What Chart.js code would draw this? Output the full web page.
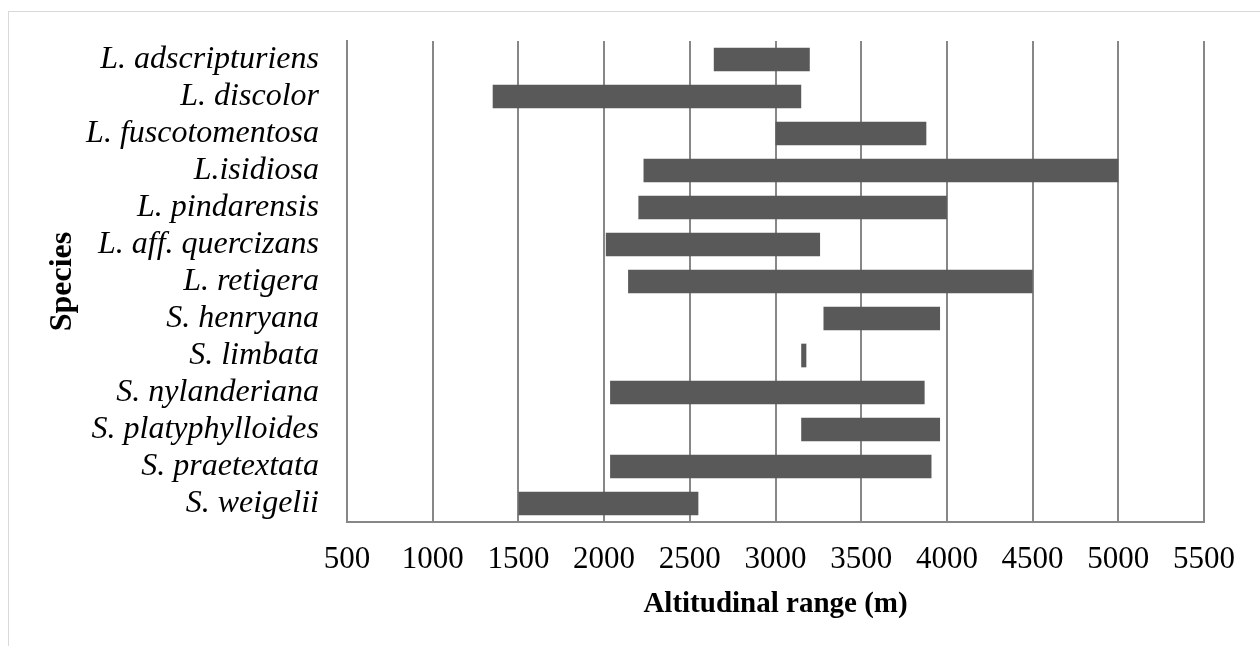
<!DOCTYPE html>
<html>
<head>
<meta charset="utf-8">
<script src="https://cdn.jsdelivr.net/npm/chart.js@4"></script>
<style>
  html, body { margin: 0; padding: 0; background: #fff; overflow: hidden; }
  #frame { position: absolute; left: 8px; top: 11px; width: 1300px; height: 700px; border: 1px solid #d9d9d9; }
  #range { position: absolute; left: 0; top: 0; }
</style>
</head>
<body>
<div id="frame"></div>
<canvas id="range" width="1260" height="646"></canvas>
<script>
const species = [
  'L. adscripturiens', 'L. discolor', 'L. fuscotomentosa', 'L.isidiosa',
  'L. pindarensis', 'L. aff. quercizans', 'L. retigera', 'S. henryana',
  'S. limbata', 'S. nylanderiana', 'S. platyphylloides', 'S. praetextata',
  'S. weigelii'
];
const lowAlt  = [2640, 1350, 3000, 2230, 2200, 2010, 2140, 3280, 3150, 2035, 3150, 2035, 1500];
const highAlt = [3200, 3150, 3880, 5000, 4000, 3260, 4500, 3960, 3180, 3870, 3960, 3910, 2550];
const xTicks = [500, 1000, 1500, 2000, 2500, 3000, 3500, 4000, 4500, 5000, 5500];

document.addEventListener('DOMContentLoaded', function () {
  const ctx = document.getElementById('range').getContext('2d');
  const serif = "'Liberation Serif', 'Times New Roman', serif";
  const gridGrey = '#878787';

  new Chart(ctx, {
    type: 'bar',
    data: {
      labels: species,
      datasets: [{
        label: 'Altitudinal range',
        data: species.map((s, i) => [lowAlt[i], highAlt[i]]),
        backgroundColor: '#595959',
        borderWidth: 0,
        barPercentage: 0.64,
        categoryPercentage: 1
      }]
    },
    options: {
      indexAxis: 'y',
      responsive: false,
      animation: false,
      devicePixelRatio: 1,
      layout: { padding: { left: 10, right: 56, top: 41, bottom: 24 } },
      plugins: { legend: { display: false }, tooltip: { enabled: false } },
      scales: {
        x: {
          min: xTicks[0],
          max: xTicks[xTicks.length - 1],
          afterBuildTicks: function (scale) { scale.ticks = xTicks.map(v => ({ value: v })); },
          grid: { color: gridGrey, lineWidth: 2, drawTicks: false },
          border: { color: gridGrey, width: 2 },
          ticks: {
            color: '#000', padding: 19, maxRotation: 0, autoSkip: false,
            callback: function (v) { return String(v); },
            font: { family: serif, size: 31 }
          },
          title: {
            display: true, text: 'Altitudinal range (m)', color: '#000',
            padding: { top: -10, bottom: 0 },
            font: { family: serif, size: 29, weight: 'bold' }
          }
        },
        y: {
          afterFit: function (scale) {
            scale.width = 337;
            scale.paddingTop = 0;
            scale.paddingBottom = 0;
          },
          grid: { display: false, drawTicks: false },
          border: { color: gridGrey, width: 2 },
          ticks: {
            color: '#000', padding: 28, autoSkip: false,
            font: { family: serif, size: 32, style: 'italic' }
          },
          title: {
            display: true, text: 'Species', color: '#000',
            padding: { top: 34, bottom: 0 },
            font: { family: serif, size: 32, weight: 'bold' }
          }
        }
      }
    }
  });
});
</script>
</body>
</html>
